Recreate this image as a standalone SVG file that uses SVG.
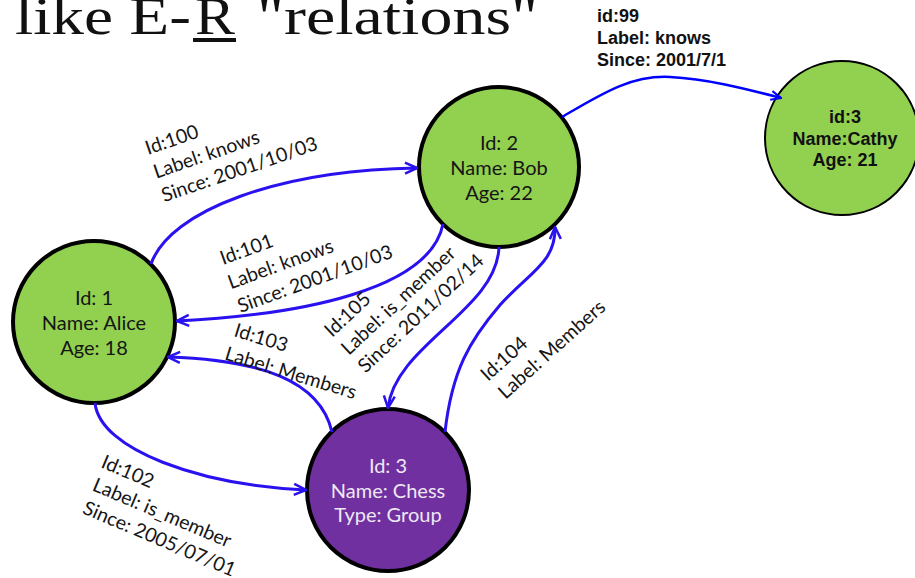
<svg xmlns="http://www.w3.org/2000/svg" width="915" height="578" viewBox="0 0 915 578">
  <style>
    .title { font-family: "Liberation Serif", "DejaVu Serif", serif; font-size: 53px; fill: #111; }
    .node-green { fill: #92d050; stroke: #000; stroke-width: 4; }
    .node-purple { fill: #7030a0; stroke: #000; stroke-width: 4; }
    .node-thin { fill: #92d050; stroke: #000; stroke-width: 2; }
    .ntext { font-family: Lato, "Open Sans", sans-serif; font-size: 20px; fill: #151515; text-anchor: middle; }
    .ntext-light { fill: #eee8f4; }
    .btext { font-family: "Liberation Sans", Arial, sans-serif; font-weight: bold; font-size: 18px; fill: #111; }
    .elabel { font-family: Lato, "Open Sans", sans-serif; font-size: 19.5px; fill: #151515; }
    .edge { fill: none; stroke: #2a12f0; stroke-width: 3; marker-end: url(#arrow); }
    .edge-thin { fill: none; stroke: #0000ff; stroke-width: 2.5; marker-end: url(#arrow-thin); }
  </style>
  <defs>
    <marker id="arrow" viewBox="0 0 14 14" refX="13" refY="7" markerWidth="14" markerHeight="14" markerUnits="userSpaceOnUse" orient="auto">
      <path d="M1,1.5 L13,7 L1,12.5" fill="none" stroke="#2a12f0" stroke-width="2.5" stroke-linejoin="miter"/>
    </marker>
    <marker id="arrow-thin" viewBox="0 0 12 12" refX="11" refY="6" markerWidth="12" markerHeight="12" markerUnits="userSpaceOnUse" orient="auto">
      <path d="M1,1.5 L11,6 L1,10.5" fill="none" stroke="#0000ff" stroke-width="2"/>
    </marker>
  </defs>

  <rect width="915" height="578" fill="#fff"/>

  <!-- heading, partly cut off by the top edge -->
  <g id="heading">
    <text class="title" x="15" y="34" textLength="176" lengthAdjust="spacingAndGlyphs">like E-</text>
    <text class="title" x="195" y="34" textLength="40" lengthAdjust="spacingAndGlyphs">R</text>
    <rect x="193" y="38" width="43" height="4" fill="#111"/>
    <text class="title" x="257" y="34" textLength="281" lengthAdjust="spacingAndGlyphs">"relations"</text>
  </g>

  <!-- vertices -->
  <g id="node-bob">
    <circle class="node-green" cx="499" cy="167" r="80"/>
    <text class="ntext" x="499" y="150">Id: 2</text>
    <text class="ntext" x="499" y="175">Name: Bob</text>
    <text class="ntext" x="499" y="200">Age: 22</text>
  </g>
  <g id="node-alice">
    <circle class="node-green" cx="94" cy="322" r="81"/>
    <text class="ntext" x="94" y="305">Id: 1</text>
    <text class="ntext" x="94" y="330">Name: Alice</text>
    <text class="ntext" x="94" y="355">Age: 18</text>
  </g>
  <g id="node-chess">
    <circle class="node-purple" cx="388" cy="490" r="81"/>
    <text class="ntext ntext-light" x="388" y="473">Id: 3</text>
    <text class="ntext ntext-light" x="388" y="498">Name: Chess</text>
    <text class="ntext ntext-light" x="388" y="522">Type: Group</text>
  </g>
  <g id="node-cathy">
    <circle class="node-thin" cx="842" cy="138" r="77"/>
    <text class="btext" x="845" y="123" text-anchor="middle">id:3</text>
    <text class="btext" x="845" y="145" text-anchor="middle">Name:Cathy</text>
    <text class="btext" x="845" y="166" text-anchor="middle">Age: 21</text>
  </g>

  <!-- edges -->
  <g id="connectors">
    <path id="e100" class="edge" d="M151,264 C170,210 280,170 417,168"/>
    <path id="e101" class="edge" d="M443,224 C430,290 300,315 177,321"/>
    <path id="e103" class="edge" d="M332,432 C320,380 260,360 168,357"/>
    <path id="e102" class="edge" d="M95,403 C100,450 200,485 306,490"/>
    <path id="e105" class="edge" d="M499,247 C497,310 395,345 388,408"/>
    <path id="e104" class="edge" d="M445,432 C452,370 470,340 500,305 C530,272 556,262 555,227"/>
    <path id="e99" class="edge-thin" d="M562,117 C600,95 630,75 670,77 C710,79 750,90 781,98"/>
  </g>

  <!-- edge labels -->
  <g id="label-e100" class="elabel" transform="translate(148,155) rotate(-19)">
    <text x="0" y="0">Id:100</text>
    <text x="0" y="25">Label: knows</text>
    <text x="0" y="50">Since: 2001/10/03</text>
  </g>
  <g id="label-e101" class="elabel" transform="translate(223,265) rotate(-20)">
    <text x="0" y="0">Id:101</text>
    <text x="-1" y="25.5">Label: knows</text>
    <text x="0" y="51">Since: 2001/10/03</text>
  </g>
  <g id="label-e105" class="elabel" transform="translate(332,338) rotate(-43)">
    <text x="0" y="0">Id:105</text>
    <text x="0" y="24.5">Label: is_member</text>
    <text x="0" y="49">Since: 2011/02/14</text>
  </g>
  <g id="label-e104" class="elabel" transform="translate(488,382) rotate(-42)">
    <text x="0" y="0">Id:104</text>
    <text x="1" y="25">Label: Members</text>
  </g>
  <g id="label-e103" class="elabel" transform="translate(233,336) rotate(17)">
    <text x="0" y="0">Id:103</text>
    <text x="-2" y="25">Label: Members</text>
  </g>
  <g id="label-e102" class="elabel" transform="translate(100,467) rotate(23)">
    <text x="0" y="0">Id:102</text>
    <text x="1" y="24.5">Label: is_member</text>
    <text x="1" y="49.5">Since: 2005/07/01</text>
  </g>
  <g id="label-e99" class="btext">
    <text x="597" y="22">id:99</text>
    <text x="597" y="44">Label: knows</text>
    <text x="597" y="66">Since: 2001/7/1</text>
  </g>
</svg>
